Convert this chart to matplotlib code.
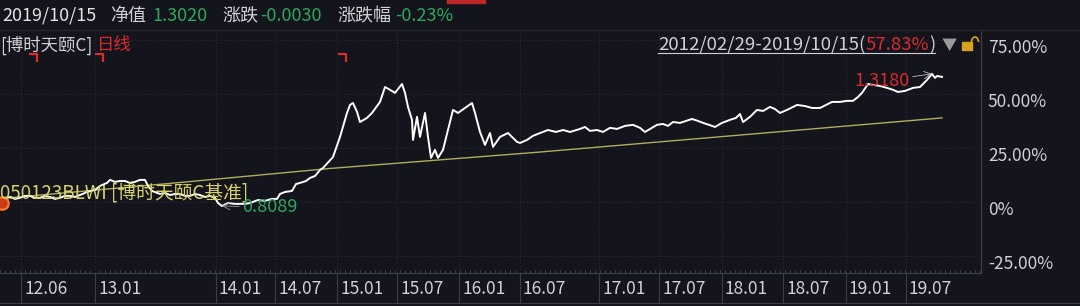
import matplotlib
matplotlib.use("Agg")
import matplotlib.pyplot as plt
import matplotlib.transforms as mtransforms
from matplotlib.path import Path
from matplotlib.patches import Rectangle, Arc
from matplotlib.lines import Line2D

plt.rcParams['font.family'] = ['Noto Sans CJK SC', 'DejaVu Sans']

# ---- data (x = bar position, value = cumulative return %) ----
nav_x = [0, 5, 10, 15, 20, 25, 30, 35, 40, 45, 50, 55, 60, 65, 70, 75, 80, 87, 95, 100, 107,
         110, 115, 120, 125, 130, 135, 140, 145, 148, 152, 160, 165, 170, 175, 180, 185, 190,
         195, 200, 205, 210, 215, 218, 222, 228, 235, 245, 250, 258, 265, 272, 277, 280, 285,
         292, 296, 300, 306, 310, 315, 320, 323, 333, 340, 347, 350, 353, 357, 360, 367, 372,
         380, 385, 390, 395, 402, 405, 408, 412, 413, 417, 420, 425, 428, 431, 435, 438, 443,
         448, 453, 458, 465, 472, 475, 480, 485, 490, 493, 500, 508, 517, 520, 527, 533, 540,
         548, 556, 563, 570, 580, 585, 590, 597, 603, 610, 617, 625, 633, 640, 645, 650, 657,
         663, 668, 673, 680, 686, 692, 698, 703, 709, 715, 722, 730, 736, 740, 743, 750, 757,
         763, 770, 775, 780, 787, 797, 805, 812, 820, 826, 832, 840, 847, 853, 858, 862, 868,
         873, 880, 887, 893, 898, 905, 913, 920, 924, 927, 932, 935, 937, 942]
nav_pct = [0.0, 1.9, 2.3, 1.4, 1.9, 2.8, 2.8, 1.9, 1.9, 2.8, 2.3, 1.4, 1.9, 2.8, 2.8, 2.3, 3.2, 4.6, 5.6, 7.4, 8.8,
           10.2, 9.3, 9.7, 9.7, 8.8, 9.3, 10.2, 10.2, 7.4, 5.1, 3.7, 4.2, 3.2, 3.7, 3.7, 2.8, 2.8,
           3.7, 3.2, 2.3, 2.8, 1.9, -0.5, -1.9, -0.5, -0.9, -0.9, -0.5, 0.9, 0.5, 1.4, 1.4, 3.7, 4.6,
           5.1, 8.3, 8.8, 9.7, 11.1, 12.0, 14.8, 15.7, 20.8, 30.1, 41.2, 44.9, 45.8, 41.7, 37.0, 38.9, 41.2,
           46.3, 53.2, 51.9, 50.5, 54.6, 50.5, 44.0, 38.0, 28.7, 39.4, 30.1, 41.2, 30.1, 20.4, 24.1, 20.4, 24.1,
           33.3, 42.6, 41.2, 43.5, 45.8, 41.2, 32.4, 26.4, 31.9, 25.5, 30.1, 31.9, 27.8, 27.3, 28.7, 30.6, 31.9,
           33.3, 32.4, 33.3, 32.4, 33.8, 34.7, 32.9, 33.3, 32.4, 34.3, 33.8, 35.2, 35.7, 34.3, 32.4, 33.8, 35.7,
           36.1, 35.2, 37.0, 36.6, 37.5, 38.4, 37.5, 36.6, 35.7, 34.7, 36.6, 38.0, 38.9, 40.7, 37.0, 39.4, 42.6,
           42.1, 44.0, 43.0, 41.2, 42.6, 44.9, 44.4, 43.5, 43.5, 44.9, 46.3, 46.3, 46.8, 46.8, 48.6, 50.5, 54.6,
           54.2, 53.7, 52.8, 51.9, 50.9, 51.4, 52.8, 53.2, 55.1, 56.5, 59.3, 57.4, 58.3, 57.9]

bench_x = [0, 187, 330, 540, 942]
bench_pct = [1.5, 9.3, 15.5, 23.1, 38.9]

tick_pos = [21, 95, 216, 275, 337, 397, 459, 520, 599, 659, 722, 783, 846, 906]
tick_labels = ["12.06", "13.01", "14.01", "14.07", "15.01", "15.07", "16.01",
               "16.07", "17.01", "17.07", "18.01", "18.07", "19.01", "19.07"]
ytick_vals = [-25, 0, 25, 50, 75]
ytick_labels = ["-25.00%", "0%", "25.00%", "50.00%", "75.00%"]
div_x = [33, 99, 342]  # dividend flags

peak_x, peak_pct, peak_txt = 932, 59.3, "1.3180"
low_x, low_pct, low_txt = 222, -1.9, "0.8089"

# ---- colours ----
BG = '#13141c'
GRID = '#2a2c37'
SPINE = '#3a3c47'
TEXT = '#d0d1d5'
GREEN = '#2fa65b'
RED = '#dc2a2e'
YEL = '#d6d16a'

W, H = 1080, 306
fig = plt.figure(figsize=(W / 100, H / 100), dpi=100, facecolor=BG)
ax = fig.add_axes([0, 1 - 273 / H, 981 / W, (273 - 30) / H])
ax.set_facecolor(BG)
ax.set_xlim(0, 981)
ax.set_ylim(-32.9, 79.6)

for s in ['left', 'top']:
    ax.spines[s].set_visible(False)
for s in ['bottom', 'right']:
    ax.spines[s].set_color(SPINE)
    ax.spines[s].set_linewidth(0.9)

# y axis on the right
ax.yaxis.tick_right()
ax.set_yticks(ytick_vals, ytick_labels)
ax.tick_params(axis='y', length=0, pad=5, labelsize=12.5, labelcolor=TEXT)
yoff = mtransforms.ScaledTranslation(0, -6.5 / 100, fig.dpi_scale_trans)
for lab in ax.yaxis.get_ticklabels():
    lab.set_transform(lab.get_transform() + yoff)

# x axis
ax.set_xticks(tick_pos, tick_labels)
ax.xaxis.set_minor_locator(matplotlib.ticker.MultipleLocator(5))
ax.tick_params(axis='x', which='major', length=0, pad=5, labelsize=12.5, labelcolor=TEXT)
ax.tick_params(axis='x', which='minor', direction='in', length=2.5, width=0.6, color='#4a4c56')
xoff = mtransforms.ScaledTranslation(3 / 100, 0, fig.dpi_scale_trans)
for lab in ax.xaxis.get_ticklabels():
    lab.set_ha('left')
    lab.set_transform(lab.get_transform() + xoff)

ax.grid(True, color=GRID, linestyle=(0, (1, 2)), linewidth=0.8)

# separators under the axis between date labels
blend = mtransforms.blended_transform_factory(ax.transData, ax.transAxes)
ax.vlines(tick_pos, -30 / 243, 0, transform=blend, color=SPINE, lw=0.8, clip_on=False)

# benchmark and NAV
ax.plot(bench_x, bench_pct, color='#b0ad5e', lw=1.0)
ax.plot(nav_x, nav_pct, color='white', lw=1.4)
ax.plot([nav_x[0] + 2], [nav_pct[0] - 0.5], marker='o', ms=9, mfc='#c83d18', mec='#ff7b2c', mew=1.5)

# dividend flags
flag = Path([(-1, 1), (1, 1), (1, -1)], [Path.MOVETO, Path.LINETO, Path.LINETO])
ax.plot(div_x, [0.885] * len(div_x), transform=blend, ls='none', marker=flag, ms=6,
        mfc='none', mec=RED, mew=1.6)

ax.text(0, 4.2, "050123BLWI [博时天颐C基准]", color=YEL, fontsize=13.5, va='center', ha='left')

ax.annotate(peak_txt, xy=(peak_x, peak_pct), xytext=(910, 56.0), color=RED, fontsize=13,
            ha='right', va='center',
            arrowprops=dict(arrowstyle='->', color='#bfbfbf', lw=0.6, shrinkA=0, shrinkB=0))
ax.annotate(low_txt, xy=(low_x, low_pct), xytext=(242, -2.4), color=GREEN, fontsize=13,
            ha='left', va='center',
            arrowprops=dict(arrowstyle='->', color='#9a9a9a', lw=0.6, shrinkA=0, shrinkB=0))

# ---- header texts ----
def fx(x):
    return x / W

def fy(y):
    return 1 - y / H

hdr = [("2019/10/15", 2, '#e4e4e6'), ("净值", 110, TEXT), ("1.3020", 152, GREEN),
       ("涨跌", 222, TEXT), ("-0.0030", 260, GREEN), ("涨跌幅", 337, TEXT), ("-0.23%", 395, GREEN)]
for s, x, c in hdr:
    fig.text(fx(x), fy(16), s, color=c, fontsize=13, va='center', ha='left')

fig.text(fx(0), fy(45), "[博时天颐C]", color=TEXT, fontsize=12.5, va='center')
fig.text(fx(97), fy(45), "日线", color=RED, fontsize=12.5, va='center')

# period return, pieces placed one after another
renderer = fig.canvas.get_renderer()
x = 658
for s, c in [("2012/02/29-2019/10/15(", TEXT), ("57.83%", RED), (")", TEXT)]:
    t = fig.text(fx(x), fy(45), s, color=c, fontsize=13.4, va='center')
    x += t.get_window_extent(renderer).width
fig.add_artist(Line2D([fx(658), fx(x)], [fy(53)] * 2, color=TEXT, lw=0.8))
fig.text(fx(942), fy(45), "▼", color='#9a9a9a', fontsize=11, va='center')
fig.add_artist(Rectangle((fx(962), fy(50)), 10 / W, 8 / H, color='#d9a21c'))
fig.add_artist(Arc((fx(975), fy(42)), 7 / W, 10 / H, theta1=0, theta2=180, color='#d9a21c', lw=1.2))

# frame lines
fig.add_artist(Line2D([0, 1], [fy(30)] * 2, color='#262731', lw=0.9))
fig.add_artist(Line2D([0, 1], [fy(303)] * 2, color=SPINE, lw=0.9))
fig.add_artist(Rectangle((fx(447), fy(3)), 38 / W, 3 / H, color='#c0282c'))

fig.savefig("out.png", dpi=100, facecolor=BG)
